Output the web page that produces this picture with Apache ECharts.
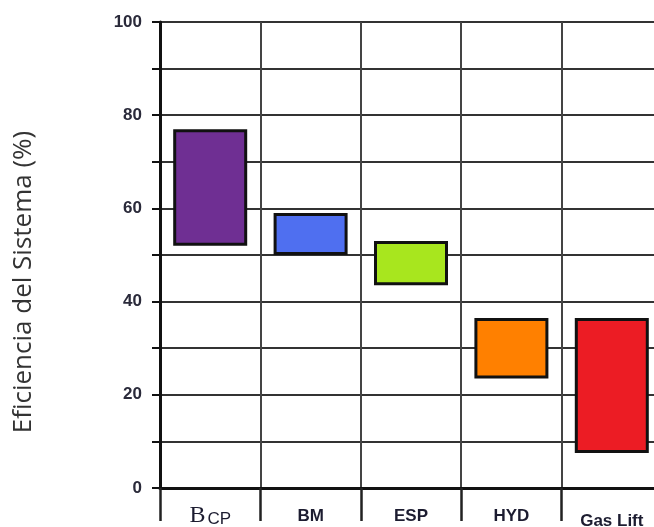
<!DOCTYPE html>
<html>
<head>
<meta charset="utf-8">
<style>
  html, body { margin: 0; padding: 0; background: #ffffff; }
  #chart { width: 654px; height: 527px; }
</style>
<script src="https://cdn.jsdelivr.net/npm/echarts@6/dist/echarts.min.js"></script>
</head>
<body>
<div id="chart"></div>
<script>
// Lift systems and their efficiency range (%)
const systems = ['BCP', 'BM', 'ESP', 'HYD', 'Gas Lift'];
const effLow  = [52, 50, 43.5, 23.5, 7.5];
const effHigh = [77, 59, 53, 36.5, 36.5];
const barColors = ['#6f2f93', '#4f6ff0', '#a8e61e', '#ff8000', '#ec1c24'];
const yTickLabels = [0, 20, 40, 60, 80, 100];

const chart = echarts.init(document.getElementById('chart'));

const spanData = systems.map((s, i) => ({
  value: effHigh[i] - effLow[i],
  itemStyle: { color: barColors[i] }
}));

chart.setOption({
  animation: false,
  // the last column runs past the right edge of the canvas
  grid: { left: 160, top: 22, width: 502, height: 466, containLabel: false, outerBoundsMode: 'none' },
  xAxis: {
    type: 'category',
    data: systems,
    boundaryGap: true,
    axisLine: { lineStyle: { color: '#111', width: 3 } },
    axisTick: { show: true, interval: 0, length: 33, lineStyle: { color: '#222', width: 2.5 } },
    splitLine: { show: true, interval: 0, lineStyle: { color: '#444', width: 2 } },
    axisLabel: {
      interval: 0,
      margin: 20,
      color: '#1c1c30',
      fontFamily: 'Liberation Sans, Arial, sans-serif',
      fontWeight: 'bold',
      fontSize: 17,
      formatter: function (v) {
        if (v === 'BCP') return '{b|B}{cp|CP}';
        if (v === 'Gas Lift') return '{g|Gas Lift}';
        return v;
      },
      rich: {
        b: { fontFamily: 'Liberation Serif, Times New Roman, serif', fontSize: 24, lineHeight: 20, verticalAlign: 'bottom', fontWeight: 'normal', color: '#1c1c30', padding: [0, 2, 0, 0] },
        cp: { fontFamily: 'Liberation Sans, Arial, sans-serif', fontSize: 17, lineHeight: 20, verticalAlign: 'bottom', fontWeight: 'normal', color: '#1c1c30' },
        g: { fontFamily: 'Liberation Sans, Arial, sans-serif', fontSize: 17, fontWeight: 'bold', color: '#1c1c30', padding: [5, 0, 0, 0] }
      }
    }
  },
  yAxis: {
    type: 'value',
    min: 0,
    max: 100,
    interval: 10,
    axisLine: { show: true, lineStyle: { color: '#111', width: 3 } },
    axisTick: { show: true, length: 8, lineStyle: { color: '#111', width: 2 } },
    splitLine: { show: true, lineStyle: { color: '#333', width: 2 } },
    axisLabel: {
      margin: 18,
      color: '#2a2a3a',
      fontFamily: 'Liberation Sans, Arial, sans-serif',
      fontWeight: 'bold',
      fontSize: 17,
      formatter: function (v) {
        return yTickLabels.indexOf(v) >= 0 ? String(v) : '';
      }
    }
  },
  graphic: [{
    type: 'text',
    x: 24,
    y: 282,
    rotation: Math.PI / 2,
    style: {
      text: 'Eficiencia del Sistema (%)',
      fill: '#333',
      font: '26px "Open Sans", "Noto Sans", sans-serif',
      align: 'center',
      verticalAlign: 'middle'
    }
  }],
  series: [
    {
      name: 'base',
      type: 'bar',
      stack: 'range',
      barWidth: 74,
      data: effLow,
      itemStyle: { color: 'transparent', borderWidth: 0 },
      silent: true
    },
    {
      name: 'span',
      type: 'bar',
      stack: 'range',
      barWidth: 74,
      data: spanData,
      itemStyle: { borderColor: '#111', borderWidth: 3 }
    }
  ]
});
</script>
</body>
</html>
